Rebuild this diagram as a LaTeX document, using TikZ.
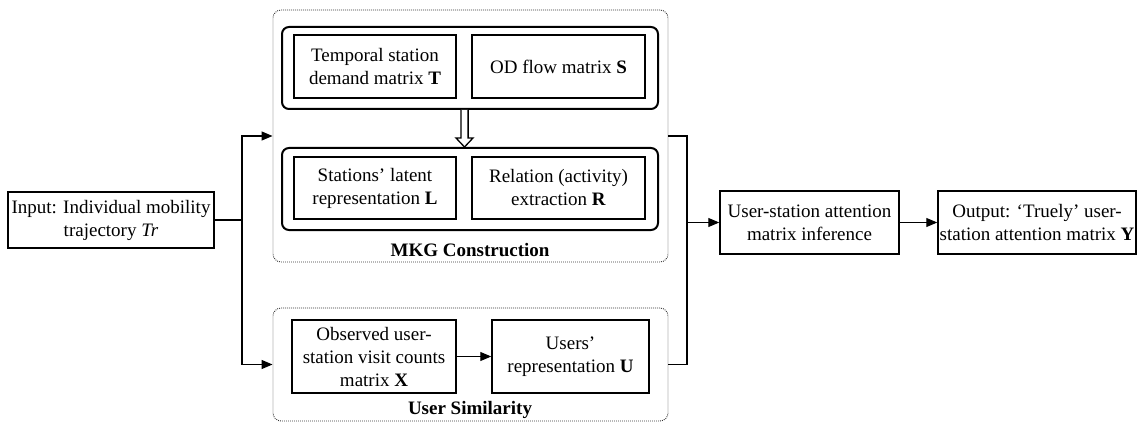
\documentclass[tikz,border=0pt]{standalone}
\usepackage{fontspec}
\setmainfont{Liberation Serif}
\usetikzlibrary{arrows.meta,calc}
\begin{document}
\begin{tikzpicture}[x=1pt,y=-1pt,
  txt/.style={font=\fontsize{19}{23}\selectfont, align=center},
  plainbox/.style={draw, line width=1.5pt, inner sep=0pt, txt},
  groupbox/.style={draw, line width=2pt, rounded corners=7pt, inner sep=0pt},
  stagebox/.style={draw=black!80, dash pattern=on 0.9pt off 1.1pt, line width=0.9pt, rounded corners=8pt, inner sep=0pt},
  title/.style={font=\fontsize{19}{23}\selectfont\bfseries},
  link/.style={line width=1.2pt},
  arr/.style={link, -{Triangle[length=11pt,width=9pt]}}]
\useasboundingbox (0,0) rectangle (1137,422);

% MKG construction stage
\node[stagebox, minimum width=395pt, minimum height=252pt] (mkg) at (470.5,136) {};
\node[groupbox, minimum width=376pt, minimum height=82pt] (top) at (470,68) {};
\node[plainbox, minimum width=162pt, minimum height=63pt] (T) at (375,66.5) {Temporal station\\demand matrix \textbf{T}};
\node[plainbox, minimum width=173pt, minimum height=63pt] (S) at (558.5,66.5) {OD flow matrix \textbf{S}};
\node[groupbox, minimum width=376pt, minimum height=82pt] (bot) at (470,189) {};
\node[plainbox, minimum width=162pt, minimum height=62pt] (L) at (375,188) {Stations' latent\\representation \textbf{L}};
\node[plainbox, minimum width=173pt, minimum height=62pt] (R) at (558.5,188) {Relation (activity)\\extraction \textbf{R}};
\node[title] (mkgt) at (470,250) {MKG Construction};

% hollow block arrow between the two groups
\coordinate (dt) at ($(top.south)+(-5.5,0)$);
\coordinate (db) at ($(bot.north)+(-5.5,0)$);
\draw[line width=1.3pt, fill=white, line join=miter]
  ($(dt)+(-3.6,0)$) -- ($(db)+(-3.6,-9)$) -- ($(db)+(-8.5,-9)$) -- (db)
  -- ($(db)+(8.5,-9)$) -- ($(db)+(3.6,-9)$) -- ($(dt)+(3.6,0)$);

% user similarity stage
\node[stagebox, minimum width=395pt, minimum height=113pt] (us) at (470.5,364.5) {};
\node[plainbox, minimum width=164pt, minimum height=73pt] (X) at (374,356.5) {Observed user-\\station visit counts\\matrix \textbf{X}};
\node[plainbox, minimum width=157pt, minimum height=73pt] (U) at (570.5,356.5) {Users'\\representation \textbf{U}};
\node[title] (ust) at (470,410) {User Similarity};

% input, inference and output
\node[plainbox, minimum width=206pt, minimum height=56pt] (in) at (111,220) {Input: Individual mobility\\trajectory \textit{Tr}};
\node[plainbox, minimum width=179pt, minimum height=63pt] (inf) at (809.5,222.5) {User-station attention\\matrix inference};
\node[plainbox, minimum width=198pt, minimum height=63pt] (out) at (1037,222.5) {Output: `Truely' user-\\station attention matrix \textbf{Y}};

% connectors
\coordinate (split) at (242,220);
\coordinate (merge) at (687,222.5);
\draw[link] (in.east) -- (split);
\draw[arr] (split) |- (mkg.west);
\draw[arr] (split) |- (us.west);
\draw[arr] (X.east) -- (U.west);
\draw[link] (mkg.east) -| (merge);
\draw[link] (us.east) -| (merge);
\draw[arr] (merge) -- (inf.west);
\draw[arr] (inf.east) -- (out.west);
\end{tikzpicture}
\end{document}
